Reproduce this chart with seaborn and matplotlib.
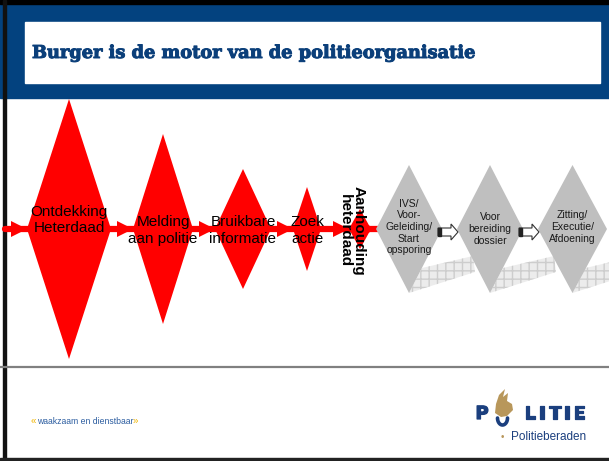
import numpy as np
import pandas as pd
import seaborn as sns
from matplotlib import pyplot as plt
from matplotlib import patheffects as pe
from matplotlib.patches import Polygon, Rectangle

# stages of the chain; red = citizen side, grey = police/justice side
red_labels = ["Ontdekking\nHeterdaad", "Melding\naan politie", "Bruikbare\ninformatie", "Zoek\nactie", "Aanhouding\nheterdaad"]
red_width = [84, 60, 56, 28, 22]
red_height = [260, 190, 120, 84, 40]

grey_labels = ["IVS/\nVoor-\nGeleiding/\nStart\nopsporing", "Voor\nbereiding\ndossier", "Zitting/\nExecutie/\nAfdoening"]
grey_width = [66, 66, 69]
grey_height = [128, 128, 128]

title = "Burger is de motor van de politieorganisatie"
slogan = "waakzaam en dienstbaar"

BLUE = "#03427f"
RED = "#ff0000"
GREY = "#bfbfbf"

sns.set_theme(style="white")
plt.rcParams["font.family"] = ["Liberation Sans", "DejaVu Sans"]

fig = plt.figure(figsize=(6.09, 4.61), dpi=100)
ax = fig.add_axes([0, 0, 1, 1])
ax.set_xlim(0, 609)
ax.set_ylim(461, 0)
ax.axis("off")

# header banner
ax.add_patch(Rectangle((0, 0), 609, 98, color=BLUE, zorder=1))
ax.add_patch(Rectangle((25, 22), 575, 61, color="white", zorder=2))
ax.text(32, 53, title, color="#0b3f7a", fontsize=12.8, fontweight="bold",
        family="DejaVu Serif", va="center", ha="left", zorder=3,
        path_effects=[pe.withStroke(linewidth=0.7, foreground="#0b3f7a")])

# frame lines
ax.add_patch(Rectangle((0, 0), 609, 4, color="black", zorder=4))
ax.add_patch(Rectangle((3, 0), 2.5, 461, color="#111111", zorder=4))
ax.add_patch(Rectangle((0, 458), 609, 3, color="#222222", zorder=4))
ax.plot([0, 609], [367, 367], color="#808080", lw=1.6, zorder=4)

cy = 229
gap = 22

# layout of red diamonds
red = pd.DataFrame({"label": red_labels, "w": red_width, "h": red_height})
left = 27
xs = []
for i, w in enumerate(red["w"]):
    if i == len(red) - 1:
        left += 6  # last arrow is a bit longer
    xs.append(left + w / 2)
    left += w + gap
red["x"] = xs

grey = pd.DataFrame({"label": grey_labels, "w": grey_width, "h": grey_height})
gleft = red["x"].iloc[-1] + red["w"].iloc[-1] / 2 + 5
gx = []
for w in grey["w"]:
    gx.append(gleft + w / 2)
    gleft += w + 15
grey["x"] = gx

# red flow line
line = pd.DataFrame({"x": [5, grey["x"].iloc[0]], "y": [cy, cy]})
sns.lineplot(data=line, x="x", y="y", color=RED, lw=4.5, ax=ax, zorder=5)

# arrow heads into every diamond
tips = list(red["x"] - red["w"] / 2) + [grey["x"].iloc[0] - grey["w"].iloc[0] / 2]
for t in tips:
    ax.add_patch(Polygon([(t - 16, cy - 8), (t, cy), (t - 16, cy + 8)], color=RED, lw=0, zorder=6))

for _, r in red.iterrows():
    ax.fill([r.x - r.w / 2, r.x, r.x + r.w / 2, r.x], [cy, cy - r.h / 2, cy, cy + r.h / 2],
            color=RED, lw=0, zorder=7)

for _, r in red.iloc[:-1].iterrows():
    off = -9 if r.name == 0 else 1.5
    ax.text(r.x, cy + off, r.label, ha="center", va="center", fontsize=11,
            color="black", linespacing=1.2, zorder=9)

last = red.iloc[-1]
ax.text(last.x - 8, cy + 2, last.label, rotation=270, ha="center", va="center",
        fontsize=11, fontweight="bold", color="black", linespacing=1.0, zorder=9)

# grey shadows, diamonds and hollow arrows
for _, r in grey.iterrows():
    b = cy + r.h / 2
    ax.add_patch(Polygon([(r.x, b), (r.x + 13, b - 25), (r.x + 64, b - 37), (r.x + 66, b - 21)],
                         facecolor="#ececec", edgecolor="#cdcdcd", hatch="++", lw=0, zorder=6))
for _, r in grey.iterrows():
    ax.fill([r.x - r.w / 2, r.x, r.x + r.w / 2, r.x], [cy, cy - r.h / 2, cy, cy + r.h / 2],
            color=GREY, lw=0, zorder=7)
    yoff = 0 if r.name == 1 else -2
    ax.text(r.x, cy + yoff, r.label, ha="center", va="center", fontsize=7.5,
            color="#1a1a1a", linespacing=1.2, zorder=9)

for i in range(len(grey) - 1):
    x0 = grey["x"].iloc[i] + grey["w"].iloc[i] / 2 - 4
    ay = cy + 3
    ax.add_patch(Polygon([(x0, ay - 4), (x0 + 13, ay - 4), (x0 + 13, ay - 8), (x0 + 20, ay),
                          (x0 + 13, ay + 8), (x0 + 13, ay + 4), (x0, ay + 4)],
                         facecolor="white", edgecolor="#333333", lw=0.8, zorder=10))
    ax.add_patch(Rectangle((x0, ay - 4), 3, 8, color="#222222", zorder=11))

# footer
ax.text(31, 421, "«", color="#f0b400", fontsize=7, va="center", ha="left", zorder=9)
ax.text(37, 421, slogan, color="#2c5da0", fontsize=6.2, va="center", ha="left", zorder=9)
ax.text(133, 421, "»", color="#f0b400", fontsize=7, va="center", ha="left", zorder=9)

LOGO = "#1b3f7e"
GOLD = "#b8975b"
for ch, lx in zip("PLITIE", [482, 530, 542, 555, 567, 579]):
    ax.text(lx, 414, ch, color=LOGO, fontsize=13, fontweight="bold", ha="center", va="center",
            family="DejaVu Sans", zorder=9,
            path_effects=[pe.withStroke(linewidth=0.9, foreground=LOGO)])
# emblem in place of the O
th = np.linspace(np.pi, 2 * np.pi, 30)
ax.plot(502.5 + 5 * np.cos(th), 418 - 7 * np.sin(th), color=LOGO, lw=2.6, zorder=9)
ax.add_patch(Polygon([(496, 404), (499, 395), (505, 389), (503, 397), (508, 393), (507, 401),
                      (512, 404), (513, 410), (507, 416), (501, 417), (495, 413)],
                     color=GOLD, lw=0, zorder=10))
ax.text(502, 437, "•", color=GOLD, fontsize=7, ha="center", va="center", zorder=9)
ax.text(511, 437, "Politieberaden", color=LOGO, fontsize=8.5, ha="left", va="center", zorder=9)

plt.savefig("out.png", dpi=100)
